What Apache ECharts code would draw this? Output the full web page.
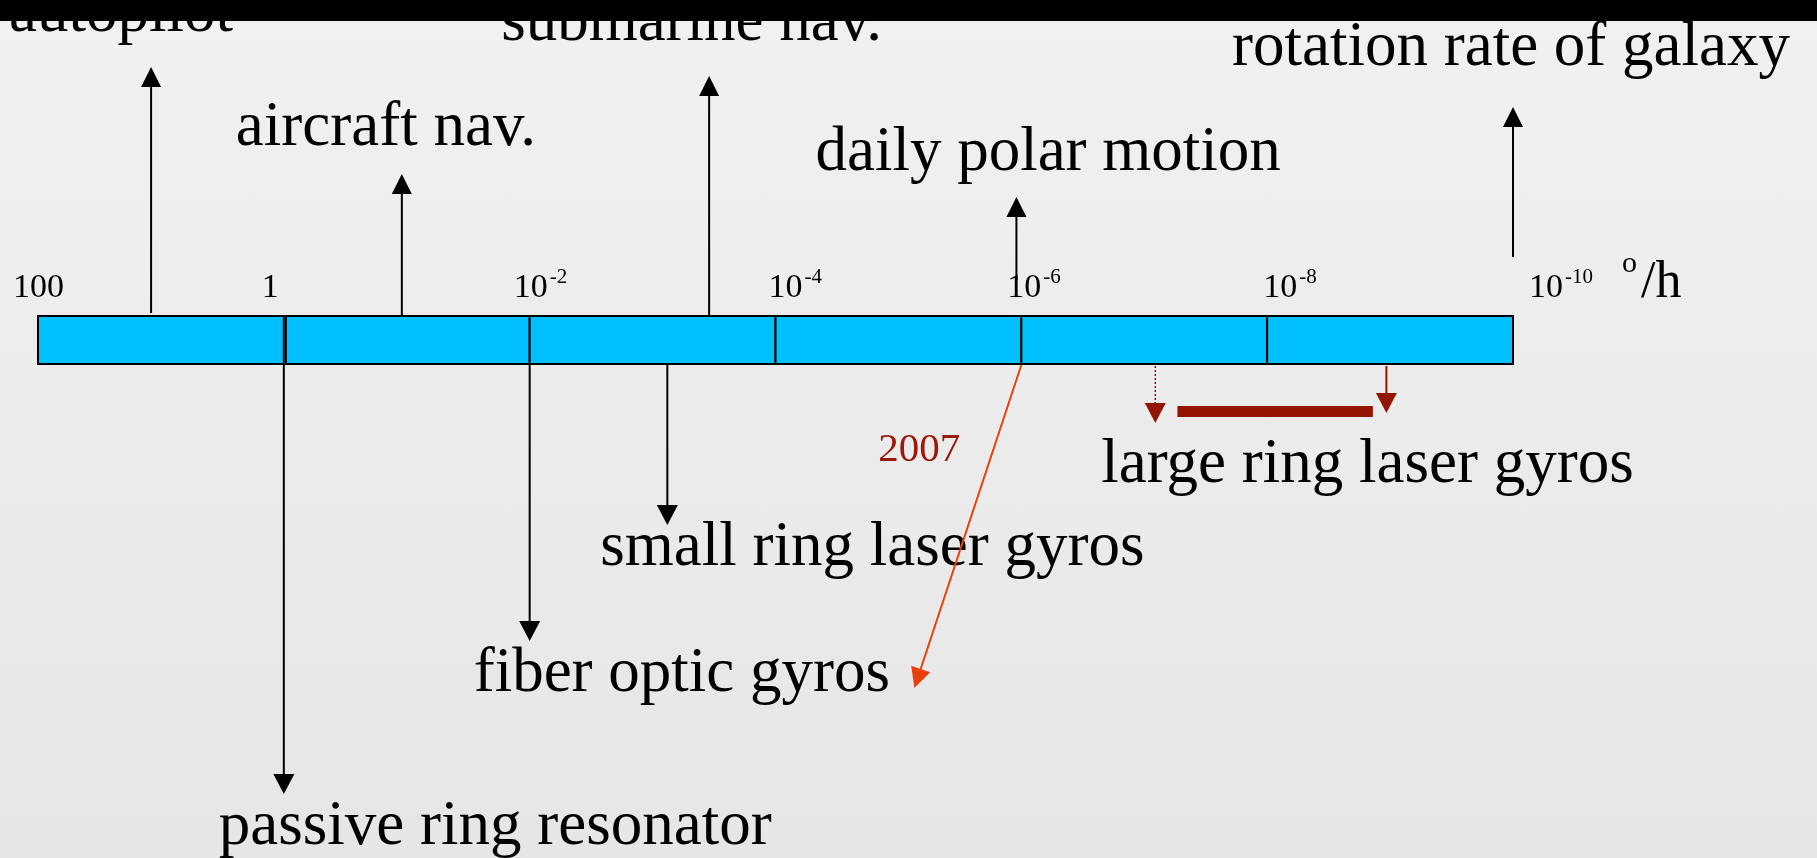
<!DOCTYPE html>
<html>
<head>
<meta charset="utf-8">
<script src="https://cdn.jsdelivr.net/npm/echarts@6/dist/echarts.min.js"></script>
<style>
html, body { margin: 0; padding: 0; }
body { width: 1817px; height: 858px; overflow: hidden; background: linear-gradient(#f1f1f1, #e6e6e6); }
#chart { width: 1817px; height: 858px; }
</style>
</head>
<body>
<div id="chart"></div>
<script>
// x values are log10 of the rate in deg/h
const decades = [2, 0, -2, -4, -6, -8, -10];
const tickBase = ['100', '1', '10', '10', '10', '10', '10'];
const tickExp = ['', '', '-2', '-4', '-6', '-8', '-10'];
const unitLabel = ['o', '/h'];

const applications = ['autopilot', 'aircraft nav.', 'submarine nav.', 'daily polar motion', 'rotation rate of galaxy'];
const applicationRates = [1.08, -0.96, -3.46, -5.96, -10.0];

const gyroTypes = ['passive ring resonator', 'fiber optic gyros', 'small ring laser gyros'];
const gyroRates = [0, -2, -3.12];

const fogYear = '2007';
const fogRates = [-6, -5.13]; // start, arrow tip

const largeRingName = 'large ring laser gyros';
const largeRingRates = [-7.09, -8.97]; // dotted arrow, solid arrow
const largeRingBar = [-7.27, -8.86];

// layout (pixels)
const FONT = '"Liberation Serif", "Times New Roman", serif';
const BAR_TOP = 316, BAR_BOTTOM = 364;
const appBaseY = [313, 315, 315, 280, 257];
const appTipY = [67, 174, 76, 197, 107];
const appLabelDx = [-142, -166, -208, -201, -281];
const appLabelY = [30, 144, 39, 169, 64];
const gyroTipY = [794, 641, 525];
const gyroLabelDx = [-65, -56, -67];
const gyroLabelY = [843, 690, 564];
const tickDx = [-25, -22, -16, -7, -14, -4, 16];

const ctx = document.createElement('canvas').getContext('2d');
function textWidth(t, size) {
  ctx.font = size + 'px ' + FONT;
  return ctx.measureText(t).width;
}

// text placed by its baseline
function txt(x, baseline, text, size, color) {
  return {
    type: 'text',
    style: {
      text: text, x: x, y: baseline - 0.25 * size,
      font: size + 'px ' + FONT, fill: color || '#000',
      align: 'left', verticalAlign: 'middle'
    }
  };
}

function arrow(x1, y1, x2, y2, color, w, h, lineWidth, dash) {
  const ang = Math.atan2(y2 - y1, x2 - x1);
  const bx = x2 - Math.cos(ang) * h, by = y2 - Math.sin(ang) * h;
  const nx = -Math.sin(ang) * w / 2, ny = Math.cos(ang) * w / 2;
  return [
    {
      type: 'line',
      shape: { x1: x1, y1: y1, x2: bx, y2: by },
      style: { stroke: color, lineWidth: lineWidth || 2, lineDash: dash || null }
    },
    {
      type: 'polygon',
      shape: { points: [[x2, y2], [bx + nx, by + ny], [bx - nx, by - ny]] },
      style: { fill: color }
    }
  ];
}

const chart = echarts.init(document.getElementById('chart'));

const pxPerDecade = 1475 / 12;
const option = {
  animation: false,
  grid: { left: 0, right: 0, top: 0, bottom: 0 },
  xAxis: {
    type: 'value', inverse: true, show: false,
    min: -10 - 304 / pxPerDecade, max: 2 + 38 / pxPerDecade
  },
  yAxis: { type: 'value', inverse: true, show: false, min: 0, max: 858 },
  graphic: [
    { type: 'rect', z: 100, shape: { x: 0, y: 0, width: 1817, height: 21 }, style: { fill: '#000' } }
  ],
  series: [
    {
      // the scale bar, one box per two decades
      type: 'custom',
      clip: false,
      data: decades.slice(0, -1).map((d, i) => [d, decades[i + 1]]),
      renderItem: function (params, api) {
        const a = api.coord([api.value(0), BAR_TOP]);
        const b = api.coord([api.value(1), BAR_BOTTOM]);
        const gap = params.dataIndex === 1 ? 2 : 0;
        return {
          type: 'rect',
          shape: { x: a[0] + gap, y: a[1], width: b[0] - a[0] - gap, height: b[1] - a[1] },
          style: { fill: '#00c0ff', stroke: '#000', lineWidth: 2 }
        };
      }
    },
    {
      // tick labels
      type: 'custom',
      clip: false,
      data: decades.map((d, i) => [d, i]),
      renderItem: function (params, api) {
        const i = params.dataIndex;
        const p = api.coord([api.value(0), 297]);
        const x = p[0] + tickDx[i];
        const children = [txt(x, 297, tickBase[i], 34)];
        if (tickExp[i]) {
          children.push(txt(x + textWidth(tickBase[i], 34) + 2, 283, tickExp[i], 21));
        }
        if (i === decades.length - 1) {
          const ux = x + textWidth(tickBase[i], 34) + 2 + textWidth(tickExp[i], 21) + 29;
          children.push(txt(ux, 272, unitLabel[0], 30));
          children.push(txt(ux + textWidth(unitLabel[0], 30) + 4, 296, unitLabel[1], 52));
        }
        return { type: 'group', children: children };
      }
    },
    {
      // applications, arrows pointing up
      type: 'custom',
      clip: false,
      data: applicationRates.map((r, i) => [r, i]),
      renderItem: function (params, api) {
        const i = params.dataIndex;
        const x = api.coord([api.value(0), 0])[0];
        const children = arrow(x, appBaseY[i], x, appTipY[i], '#000', 20, 20, 2);
        children.push(txt(x + appLabelDx[i], appLabelY[i], applications[i], 63));
        return { type: 'group', children: children };
      }
    },
    {
      // gyro types, arrows pointing down
      type: 'custom',
      clip: false,
      data: gyroRates.map((r, i) => [r, i]),
      renderItem: function (params, api) {
        const i = params.dataIndex;
        const x = api.coord([api.value(0), 0])[0];
        const children = arrow(x, BAR_BOTTOM + 1, x, gyroTipY[i], '#000', 21, 20, 2);
        children.push(txt(x + gyroLabelDx[i], gyroLabelY[i], gyroTypes[i], 63));
        return { type: 'group', children: children };
      }
    },
    {
      // fiber optic gyros in 2007
      type: 'custom',
      clip: false,
      data: [[fogRates[0], fogRates[1]]],
      renderItem: function (params, api) {
        const a = api.coord([api.value(0), BAR_BOTTOM + 1]);
        const b = api.coord([api.value(1), 688]);
        const children = arrow(a[0], a[1], b[0], b[1], '#e8400c', 20, 20, 2);
        children.push(txt(a[0] - 143, 460, fogYear, 41, '#991a0a'));
        return { type: 'group', children: children };
      }
    },
    {
      // large ring laser gyros
      type: 'custom',
      clip: false,
      data: [[largeRingRates[0], largeRingRates[1], largeRingBar[0], largeRingBar[1]]],
      renderItem: function (params, api) {
        const d = api.coord([api.value(0), 0])[0];
        const s = api.coord([api.value(1), 0])[0];
        const b0 = api.coord([api.value(2), 406]);
        const b1 = api.coord([api.value(3), 417]);
        const red = '#931500';
        let children = [];
        children = children.concat(arrow(d, BAR_BOTTOM + 2, d, 423, red, 21, 20, 1.5, [2, 2]));
        children = children.concat(arrow(s, BAR_BOTTOM + 2, s, 413, red, 21, 20, 2));
        children.push({
          type: 'rect',
          shape: { x: b0[0], y: b0[1], width: b1[0] - b0[0], height: b1[1] - b0[1] },
          style: { fill: red }
        });
        children.push(txt(d - 54, 481, largeRingName, 63));
        return { type: 'group', children: children };
      }
    }
  ]
};

chart.setOption(option);
</script>
</body>
</html>
